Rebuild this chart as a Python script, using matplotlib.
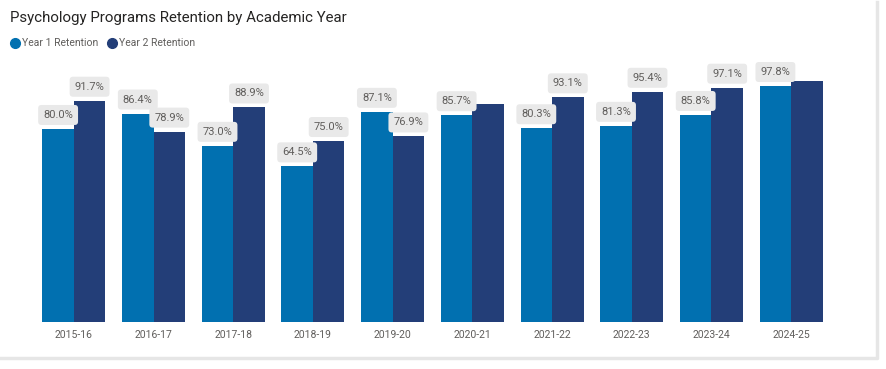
import matplotlib.pyplot as plt
from matplotlib.lines import Line2D
import numpy as np

years = ['2015-16', '2016-17', '2017-18', '2018-19', '2019-20',
         '2020-21', '2021-22', '2022-23', '2023-24', '2024-25']
year1 = [80.0, 86.4, 73.0, 64.5, 87.1, 85.7, 80.3, 81.3, 85.8, 97.8]
year2 = [91.7, 78.9, 88.9, 75.0, 76.9, 90.2, 93.1, 95.4, 97.1, 100.0]
# labels Power BI left out
year2_shown = [True, True, True, True, True, False, True, True, True, False]

c1 = '#0170B0'
c2 = '#233E78'
txt = '#605E5C'

plt.rcParams['font.family'] = ['Roboto', 'DejaVu Sans']

W, H = 886, 369
fig = plt.figure(figsize=(W / 100, H / 100), dpi=100)

# card shadow on the right and bottom
fig.add_artist(Line2D([1 / W, 877 / W, 877 / W], [1 - 358 / H, 1 - 358 / H, 1 - 2 / H],
                      transform=fig.transFigure, color='#E6E6E6', lw=2.5))

ax_left, ax_right = 34, 831
y_base, ymax = 322, 105
px_per = 2.413
ax_top = y_base - ymax * px_per
ax = fig.add_axes([ax_left / W, 1 - y_base / H,
                   (ax_right - ax_left) / W, (y_base - ax_top) / H])

x = np.arange(len(years))
bw = 0.395
ax.bar(x - bw / 2, year1, bw, color=c1, label='Year 1 Retention')
ax.bar(x + bw / 2, year2, bw, color=c2, label='Year 2 Retention')

ax.set_xlim(-0.5, len(years) - 0.5)
ax.set_ylim(0, ymax)
ax.set_yticks([])
ax.set_xticks(x)
ax.set_xticklabels(years, fontsize=7.5, color=txt)
ax.tick_params(axis='x', length=0, pad=6)
for s in ax.spines.values():
    s.set_visible(False)


def label(xpos, val):
    ax.annotate(f'{val:.1f}%', xy=(xpos, val), xytext=(0, 14),
                textcoords='offset pixels', ha='center', va='center',
                fontsize=8, color=txt,
                bbox=dict(boxstyle='round,pad=0.45,rounding_size=0.3',
                          fc='#E9E9E9', ec='none'))


for i in range(len(years)):
    label(x[i] - bw / 2, year1[i])
    if year2_shown[i]:
        label(x[i] + bw / 2, year2[i])

fig.text(10 / W, 1 - 18 / H, 'Psychology Programs Retention by Academic Year',
         fontsize=10.8, color='#252423', va='center', ha='left')

# legend
for cx, col, lab in [(15, c1, 'Year 1 Retention'), (112, c2, 'Year 2 Retention')]:
    fig.add_artist(Line2D([cx / W], [1 - 43 / H], marker='o', markersize=7,
                          color=col, lw=0, transform=fig.transFigure))
    fig.text((cx + 7) / W, 1 - 43 / H, lab, fontsize=7.5, color=txt,
             va='center', ha='left')

fig.savefig('out.png', dpi=100)
